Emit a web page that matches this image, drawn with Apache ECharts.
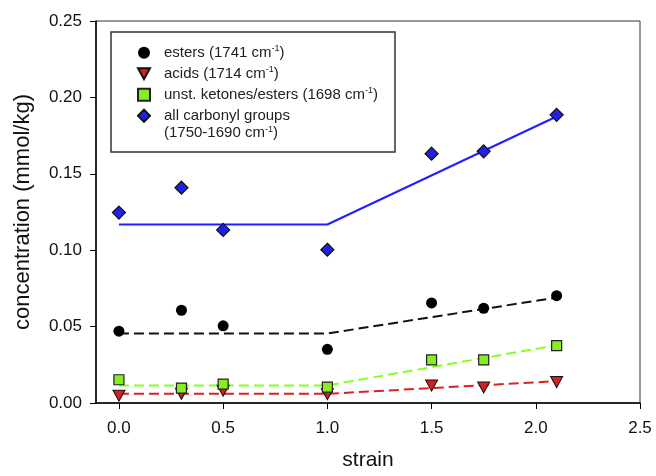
<!DOCTYPE html>
<html><head><meta charset="utf-8">
<script src="https://cdn.jsdelivr.net/npm/echarts@6/dist/echarts.min.js"></script>
<style>html,body{margin:0;padding:0;background:#fff}#c{width:656px;height:476px}</style>
</head><body><div id="c"></div>
<script>
var strain = [0, 0.3, 0.5, 1.0, 1.5, 1.75, 2.1];
var esters = [0.047, 0.0607, 0.0505, 0.0351, 0.0655, 0.062, 0.0702];
var acids = [0.0048, 0.006, 0.008, 0.0057, 0.0115, 0.0102, 0.0137];
var unstKetones = [0.0152, 0.0098, 0.0124, 0.0104, 0.0282, 0.0282, 0.0375];
var allCarbonyl = [0.1246, 0.1409, 0.1133, 0.1003, 0.1632, 0.1647, 0.1886];

var fitStrain = [0, 1.0, 2.1];
var fitEsters = [0.0455, 0.0455, 0.069];
var fitAcids = [0.006, 0.006, 0.0143];
var fitUnst = [0.0115, 0.0115, 0.0378];
var fitAll = [0.1168, 0.1168, 0.1875];

var xTicks = [0, 0.5, 1.0, 1.5, 2.0, 2.5];
var yTicks = [0, 0.05, 0.10, 0.15, 0.20, 0.25];

var names = ['esters (1741 cm{sup|-1})', 'acids (1714 cm{sup|-1})', 'unst. ketones/esters (1698 cm{sup|-1})', 'all carbonyl groups'];

function pairs(xs, ys){ return xs.map(function(x,i){return [x, ys[i]];}); }

var TRI_DOWN = 'path://M0,0L12,0L6,11Z';
var FONT = 'Liberation Sans, Arial, sans-serif';
var chart = echarts.init(document.getElementById('c'));
chart.setOption({
  animation: false,
  backgroundColor: '#fff',
  grid: {left: 96, right: 16, top: 21, bottom: 71, show: true, borderColor: '#333', borderWidth: 1, containLabel: false},
  xAxis: {
    type: 'value', min: -0.11, max: 2.5,
    name: 'strain', nameLocation: 'middle', nameGap: 47,
    nameTextStyle: {fontFamily: FONT, fontSize: 21, color: '#111'},
    axisLine: {show: true, onZero: false, lineStyle: {color: '#000', width: 1.5}},
    axisTick: {show: true, length: 6, customValues: xTicks, lineStyle: {color: '#000', width: 1}},
    axisLabel: {customValues: xTicks, margin: 17, fontFamily: FONT, fontSize: 17, color: '#111',
      formatter: function(v){ return v.toFixed(1); }},
    splitLine: {show: false}
  },
  yAxis: {
    type: 'value', min: 0, max: 0.25, interval: 0.05,
    name: 'concentration (mmol/kg)', nameLocation: 'middle', nameGap: 62,
    nameTextStyle: {fontFamily: FONT, fontSize: 22, color: '#111'},
    axisLine: {show: true, onZero: false, lineStyle: {color: '#000', width: 1.5}},
    axisTick: {show: true, length: 6, customValues: yTicks, lineStyle: {color: '#000', width: 1}},
    axisLabel: {customValues: yTicks, margin: 14, fontFamily: FONT, fontSize: 17, color: '#111',
      formatter: function(v){ return v.toFixed(2); }},
    splitLine: {show: false}
  },
  legend: {
    orient: 'vertical', left: 132, top: 39, itemWidth: 12, itemHeight: 12, itemGap: 3.5,
    data: names,
    textStyle: {fontFamily: FONT, fontSize: 15, color: '#222', lineHeight: 17.5, padding: [0,0,0,9],
      rich: {sup: {fontFamily: FONT, fontSize: 9, lineHeight: 9, verticalAlign: 'top', color: '#222'}}}
  },
  graphic: [
    {type: 'rect', shape: {x: 111, y: 32, width: 284, height: 120}, style: {fill: 'none', stroke: '#333', lineWidth: 1.5}, z: 100},
    {type: 'text', x: 164, y: 133, style: {text: '(1750-1690 cm{sup|-1})', fontFamily: FONT, fontSize: 15, fill: '#222', verticalAlign: 'middle',
      rich: {sup: {fontFamily: FONT, fontSize: 9, lineHeight: 9, verticalAlign: 'top', fill: '#222'}}}, z: 100}
  ],
  series: [
    {type: 'line', data: pairs(fitStrain, fitAll), showSymbol: false, lineStyle: {color: '#1f1fff', width: 2}, z: 2},
    {type: 'line', data: pairs(fitStrain, fitEsters), showSymbol: false, lineStyle: {color: '#111', width: 2, type: [10, 5]}, z: 2},
    {type: 'line', data: pairs(fitStrain, fitUnst), showSymbol: false, lineStyle: {color: '#88ff22', width: 2, type: [10, 5]}, z: 2},
    {type: 'line', data: pairs(fitStrain, fitAcids), showSymbol: false, lineStyle: {color: '#dd2020', width: 2, type: [10, 5]}, z: 2},
    {name: names[0], type: 'scatter', data: pairs(strain, esters), symbol: 'circle', symbolSize: 11,
      itemStyle: {color: '#000', opacity: 1}, z: 5},
    {name: names[1], type: 'scatter', data: pairs(strain, acids), symbol: TRI_DOWN, symbolSize: [12, 11],
      itemStyle: {color: '#d42020', borderColor: '#111', borderWidth: 1, opacity: 1}, z: 5},
    {name: names[2], type: 'scatter', data: pairs(strain, unstKetones), symbol: 'rect', symbolSize: 10,
      itemStyle: {color: '#88ee22', borderColor: '#222', borderWidth: 1.2, opacity: 1}, z: 5},
    {name: names[3], type: 'scatter', data: pairs(strain, allCarbonyl), symbol: 'diamond', symbolSize: 13,
      itemStyle: {color: '#2020ee', borderColor: '#111', borderWidth: 1.2, opacity: 1}, z: 5}
  ]
});
</script></body></html>
